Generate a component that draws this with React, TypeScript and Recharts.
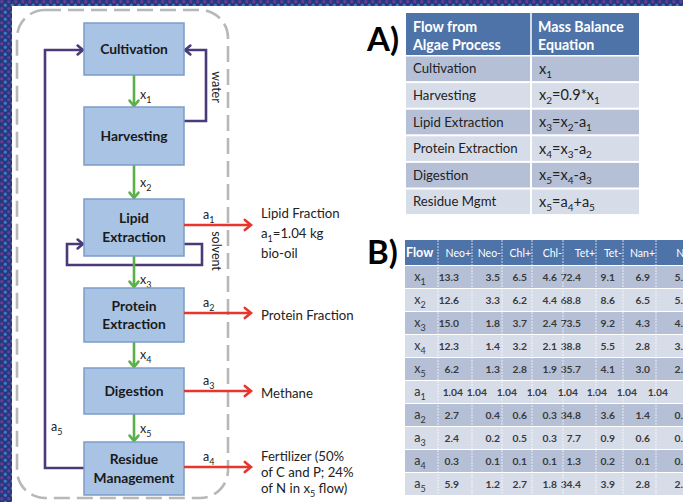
import React from 'react';
import { ComposedChart, XAxis, YAxis, Customized } from 'recharts';

// ---------- data ----------
const processSteps = ['Cultivation', 'Harvesting', 'Lipid|Extraction', 'Protein|Extraction', 'Digestion', 'Residue|Management'];
const flowLabels = ['x_1', 'x_2', 'x_3', 'x_4', 'x_5'];
const outputLabels = ['a_1', 'a_2', 'a_3', 'a_4'];
const outputProducts = [
  ['Lipid Fraction', 'a_1=1.04 kg', 'bio-oil'],
  ['Protein Fraction'],
  ['Methane'],
  ['Fertilizer (50%', 'of C and P; 24%', 'of N in x_5 flow)'],
];
const recycleLabels = ['water', 'solvent', 'a_5'];

const tableAHeader = [['Flow from', 'Algae Process'], ['Mass Balance', 'Equation']];
const tableAProcesses = ['Cultivation', 'Harvesting', 'Lipid Extraction', 'Protein Extraction', 'Digestion', 'Residue Mgmt'];
const tableAEquations = ['x_1', 'x_2=0.9*x_1', 'x_3=x_2-a_1', 'x_4=x_3-a_2', 'x_5=x_4-a_3', 'x_5=a_4+a_5'];

const tableBColumns = ['Neo+', 'Neo-', 'Chl+', 'Chl-', 'Tet+', 'Tet-', 'Nan+', 'Nan-'];
const tableBFlows = ['x_1', 'x_2', 'x_3', 'x_4', 'x_5', 'a_1', 'a_2', 'a_3', 'a_4', 'a_5'];
const neoPlus = [13.3, 12.6, 15.0, 12.3, 6.2, 1.04, 2.7, 2.4, 0.3, 5.9];
const neoMinus = [3.5, 3.3, 1.8, 1.4, 1.3, 1.04, 0.4, 0.2, 0.1, 1.2];
const chlPlus = [6.5, 6.2, 3.7, 3.2, 2.8, 1.04, 0.6, 0.5, 0.1, 2.7];
const chlMinus = [4.6, 4.4, 2.4, 2.1, 1.9, 1.04, 0.3, 0.3, 0.1, 1.8];
const tetPlus = [72.4, 68.8, 73.5, 38.8, 35.7, 1.04, 34.8, 7.7, 1.3, 34.4];
const tetMinus = [9.1, 8.6, 9.2, 5.5, 4.1, 1.04, 3.6, 0.9, 0.2, 3.9];
const nanPlus = [6.9, 6.5, 4.3, 2.8, 3.0, 1.04, 1.4, 0.6, 0.1, 2.8];
const nanMinus = [5.2, 5.0, 4.0, 3.1, 2.4, 1.04, 0.8, 0.4, 0.1, 2.2];
const tableBValues = [neoPlus, neoMinus, chlPlus, chlMinus, tetPlus, tetMinus, nanPlus, nanMinus];

// ---------- styling / layout ----------
const W = 683;
const H = 502;
const FONT = 'Lato, "Open Sans", sans-serif';
const BOX_FILL = '#a9c3e4';
const BOX_STROKE = '#7c9dc9';
const GREEN = '#5cb04a';
const RED = '#e8352e';
const PURPLE = '#4a3a78';
const HEAD_BLUE = '#4d73a9';
const ROW_DARK = '#b5c0d7';
const ROW_LIGHT = '#d7dce9';
const TXT = '#222';

const boxX = 84;
const boxW = 100;
const boxTops = [23, 107, 199, 288, 368, 442];
const boxBottoms = [75, 165, 256, 342, 414, 495];
const flowLabelY = [95, 183, 280, 355, 429];
const outY = [225, 313, 391, 467];
const productFirstY = [213, 315, 393, 456];
const productGap = [20, 18, 18, 16];

const fmt = (v: number) => (Math.abs(v * 10 - Math.round(v * 10)) < 1e-9 ? v.toFixed(1) : v.toFixed(2));

function Rich({ x, y, text, size, anchor = 'start', weight = 400, fill = TXT }: any) {
  const parts = text.split(/(_\d)/).filter((p: string) => p.length > 0);
  const sub = Math.round(size * 0.68);
  const shift = Math.round(size * 0.28);
  let down = false;
  return (
    <text x={x} y={y + size * 0.35} fontSize={size} fontFamily={FONT} fontWeight={weight} fill={fill} textAnchor={anchor}>
      {parts.map((p: string, i: number) => {
        if (p.startsWith('_')) {
          const el = <tspan key={i} fontSize={sub} dy={down ? 0 : shift}>{p.slice(1)}</tspan>;
          down = true;
          return el;
        }
        const el = <tspan key={i} dy={down ? -shift : 0}>{p}</tspan>;
        down = false;
        return el;
      })}
    </text>
  );
}

function Arrow({ pts, color, w = 2.6, head = 7 }: any) {
  const n = pts.length;
  const [x1, y1] = pts[n - 2];
  const [x2, y2] = pts[n - 1];
  const ang = Math.atan2(y2 - y1, x2 - x1);
  const a1 = ang + Math.PI * 0.78;
  const a2 = ang - Math.PI * 0.78;
  const h1 = [x2 + head * Math.cos(a1), y2 + head * Math.sin(a1)];
  const h2 = [x2 + head * Math.cos(a2), y2 + head * Math.sin(a2)];
  return (
    <g>
      <polyline points={pts.map((p: number[]) => p.join(',')).join(' ')} fill="none" stroke={color} strokeWidth={w} strokeLinejoin="miter" />
      <polyline points={`${h1.join(',')} ${x2},${y2} ${h2.join(',')}`} fill="none" stroke={color} strokeWidth={w} strokeLinejoin="miter" strokeLinecap="round" />
    </g>
  );
}

function Diagram() {
  const cx = boxX + boxW / 2;
  const right = boxX + boxW;
  // table A
  const aX0 = 406, aX1 = 531, aX2 = 639;
  const aHeadTop = 13, aHeadBot = 55, aRowH = 26.6;
  // table B
  const bEdges = [405, 438, 472, 502, 532, 563, 596, 623, 656, 700];
  const bValRight = [459, 500, 527, 557, 581, 615, 650, 689];
  const bA1Right = [463, 487, 517, 547, 578, 607, 637, 668];
  const bHeadTop = 240, bHeadBot = 265, bRowH = 23;

  return (
    <g>
      <defs>
        <pattern id="dots" width="7" height="7" patternUnits="userSpaceOnUse">
          <rect width="7" height="7" fill="#24387a" />
          <circle cx="1.8" cy="1.8" r="1.7" fill="#6b3a9c" />
          <circle cx="5.3" cy="5.3" r="1.7" fill="#3b78c8" />
        </pattern>
      </defs>
      <rect x={0} y={0} width={W} height={H} fill="#ffffff" />
      <rect x={0} y={0} width={12} height={H} fill="url(#dots)" />
      <rect x={0} y={0} width={W} height={6} fill="url(#dots)" />

      {/* dashed boundary */}
      <rect x={17} y={10} width={211} height={488} rx={28} ry={28} fill="none" stroke="#b8b8b8" strokeWidth={2.6} strokeDasharray="16 7" />

      {/* recycle loops */}
      <Arrow pts={[[right, 121], [206, 121], [206, 50], [right + 1, 50]]} color={PURPLE} />
      <Arrow pts={[[boxX, 468], [45, 468], [45, 50], [boxX - 1, 50]]} color={PURPLE} />
      <Arrow pts={[[right, 244], [202, 244], [202, 265], [67, 265], [67, 244], [boxX - 1, 244]]} color={PURPLE} />
      <text transform="translate(212,87) rotate(90)" fontSize={12.5} fontFamily={FONT} fill={TXT} textAnchor="middle">{recycleLabels[0]}</text>
      <text transform="translate(212,251) rotate(90)" fontSize={12.5} fontFamily={FONT} fill={TXT} textAnchor="middle">{recycleLabels[1]}</text>
      <Rich x={51} y={427} text={recycleLabels[2]} size={12.5} />

      {/* green flows */}
      {flowLabels.map((lab, i) => (
        <g key={lab}>
          <Arrow pts={[[cx, boxBottoms[i]], [cx, boxTops[i + 1] - 1]]} color={GREEN} head={7} />
          <Rich x={140} y={flowLabelY[i]} text={lab} size={12.5} />
        </g>
      ))}

      {/* boxes */}
      {processSteps.map((s, i) => {
        const lines = s.split('|');
        const mid = (boxTops[i] + boxBottoms[i]) / 2;
        return (
          <g key={s}>
            <rect x={boxX} y={boxTops[i]} width={boxW} height={boxBottoms[i] - boxTops[i]} fill={BOX_FILL} stroke={BOX_STROKE} strokeWidth={1.5} />
            {lines.map((l, j) => (
              <text key={j} x={cx} y={mid + (j - (lines.length - 1) / 2) * 18.5 + 4.8} fontSize={13.8} fontWeight={700}
                fontFamily={FONT} fill="#1a1a1a" textAnchor="middle">{l}</text>
            ))}
          </g>
        );
      })}

      {/* red outputs */}
      {outputLabels.map((lab, i) => (
        <g key={lab}>
          <Arrow pts={[[right, outY[i]], [251, outY[i]]]} color={RED} head={8} />
          <Rich x={203} y={outY[i] - 10} text={lab} size={12.5} />
          {outputProducts[i].map((t, j) => (
            <Rich key={j} x={261} y={productFirstY[i] + j * productGap[i]} text={t} size={13.2} />
          ))}
        </g>
      ))}

      {/* Table A */}
      <text x={367} y={51} fontSize={33} fontWeight={700} fontFamily={FONT} fill="#000">A)</text>
      <rect x={aX0} y={aHeadTop} width={aX2 - aX0} height={aHeadBot - aHeadTop} fill={HEAD_BLUE} />
      <line x1={aX1} y1={aHeadTop} x2={aX1} y2={aHeadBot} stroke="#ffffff" strokeWidth={1.5} />
      {tableAHeader.map((h, c) => h.map((t, j) => (
        <text key={`${c}-${j}`} x={(c === 0 ? aX0 : aX1) + 7} y={27 + j * 18 + 5} fontSize={14.2} fontWeight={700}
          fontFamily={FONT} fill="#fff">{t}</text>
      )))}
      {tableAProcesses.map((p, r) => {
        const top = aHeadBot + 1.5 + r * aRowH;
        const fill = r % 2 === 0 ? ROW_DARK : ROW_LIGHT;
        return (
          <g key={p}>
            <rect x={aX0} y={top} width={aX1 - aX0 - 1} height={aRowH - 2} fill={fill} />
            <rect x={aX1 + 1} y={top} width={aX2 - aX1 - 1} height={aRowH - 2} fill={fill} />
            <Rich x={aX0 + 7} y={top + (aRowH - 2) / 2} text={p} size={13.2} />
            <Rich x={aX1 + 8} y={top + (aRowH - 2) / 2} text={tableAEquations[r]} size={14.5} />
          </g>
        );
      })}

      {/* Table B */}
      <text x={367} y={264} fontSize={33} fontWeight={700} fontFamily={FONT} fill="#000">B)</text>
      <rect x={bEdges[0]} y={bHeadTop} width={W - bEdges[0]} height={bHeadBot - bHeadTop} fill={HEAD_BLUE} />
      <text x={bEdges[0] + 1} y={bHeadTop + 17} fontSize={12.5} fontWeight={700} fontFamily={FONT} fill="#fff">Flow</text>
      {tableBColumns.map((c, k) => (
        <text key={c} x={bEdges[k + 2] - 1} y={bHeadTop + 17} fontSize={10.5} fontFamily={FONT} fill="#fff" textAnchor="end">{c}</text>
      ))}
      {tableBFlows.map((f, r) => {
        const top = bHeadBot + r * bRowH;
        const fill = r % 2 === 0 ? ROW_DARK : ROW_LIGHT;
        const rights = f === 'a_1' ? bA1Right : bValRight;
        return (
          <g key={f}>
            <rect x={bEdges[0]} y={top + 1} width={W - bEdges[0]} height={bRowH - 1} fill={fill} />
            <Rich x={420} y={top + bRowH / 2} text={f} size={12.5} anchor="middle" fill="#333" />
            {tableBValues.map((col, k) => (
              <text key={k} x={rights[k]} y={top + bRowH / 2 + 4} fontSize={10.3} fontWeight={700} fontFamily={FONT}
                fill="#3a3a3a" textAnchor="end">{fmt(col[r])}</text>
            ))}
          </g>
        );
      })}
      {bEdges.slice(1, -1).map((x, k) => (
        <line key={k} x1={x} y1={bHeadTop} x2={x} y2={bHeadBot + tableBFlows.length * bRowH} stroke="#ffffff" strokeOpacity={0.7}
          strokeWidth={1} strokeDasharray="2 1" />
      ))}
    </g>
  );
}

export default function App() {
  return (
    <div style={{ position: 'absolute', left: 0, top: 0, width: W, height: H, background: '#fff' }}>
      <ComposedChart width={W} height={H} data={[{ x: 0, y: 0 }]} margin={{ top: 0, right: 0, bottom: 0, left: 0 }}>
        <XAxis type="number" dataKey="x" domain={[0, W]} hide allowDataOverflow />
        <YAxis type="number" dataKey="y" domain={[0, H]} reversed hide allowDataOverflow />
        <Customized component={<Diagram />} />
      </ComposedChart>
    </div>
  );
}
